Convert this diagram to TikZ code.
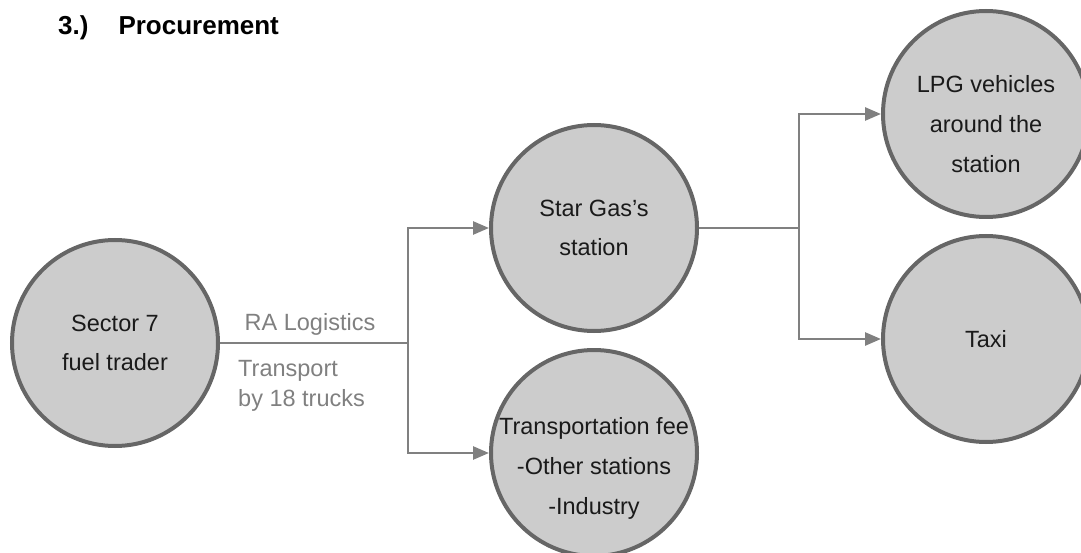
\documentclass[tikz,border=0pt]{standalone}
\usepackage{fontspec}
\setmainfont{Liberation Sans}
\usetikzlibrary{positioning,arrows.meta}
\tikzset{>={Triangle[width=13pt,length=16pt]}}
\definecolor{ringgray}{HTML}{666666}
\definecolor{diskgray}{HTML}{CCCCCC}
\definecolor{linkgray}{HTML}{808080}
\definecolor{inkgray}{HTML}{1A1A1A}
\tikzset{
	place/.style={circle, draw=ringgray, fill=diskgray, line width=4pt, minimum size=206pt, inner sep=0pt, align=center, text=inkgray, font=\fontsize{23.5}{39}\selectfont},
	placetext/.style={anchor=base, align=center, text=inkgray, inner sep=0pt, font=\fontsize{23.5}{40}\selectfont},
	link/.style={draw=linkgray, line width=2.7pt},
	note/.style={text=linkgray, inner sep=0pt, font=\fontsize{23.5}{30}\selectfont}
}

\begin{document}
\begin{tikzpicture}[x=1pt,y=-1pt]
	\useasboundingbox (0,0) rectangle (1081,553);
	\node[anchor=base west, inner sep=0pt, font=\bfseries\fontsize{26}{30}\selectfont] (title) at (58,35) {3.)\hspace{30pt}Procurement};

	\node[place] (trader) at (115,343) {Sector 7\\fuel trader};
	\node[place] (star) at (594,228) {Star Gas’s\\station};
	\node[place] (fee) at (594,453) {};
	\node[placetext] (feetext) at (594,514) {Transportation fee\\-Other stations\\-Industry};
	\node[place] (lpg) at (986,114) {};
	\node[placetext] (lpgtext) at (986,173) {LPG vehicles\\around the\\station};
	\node[place] (taxi) at (986,339) {Taxi};

	\coordinate (split) at (408,343);
	\coordinate (fork) at (799,228);
	\draw[link] (trader.east) -- (split);
	\draw[link,->] (split) |- (star.west);
	\draw[link,->] (split) |- (fee.west);
	\draw[link] (star.east) -- (fork);
	\draw[link,->] (fork) |- (lpg.west);
	\draw[link,->] (fork) |- (taxi.west);

	\node[note, anchor=base] (carrier) at (310,330) {RA Logistics};
	\node[note, anchor=base west, align=left] (haul) at (238,406) {Transport\\by 18 trucks};
\end{tikzpicture}
\end{document}
